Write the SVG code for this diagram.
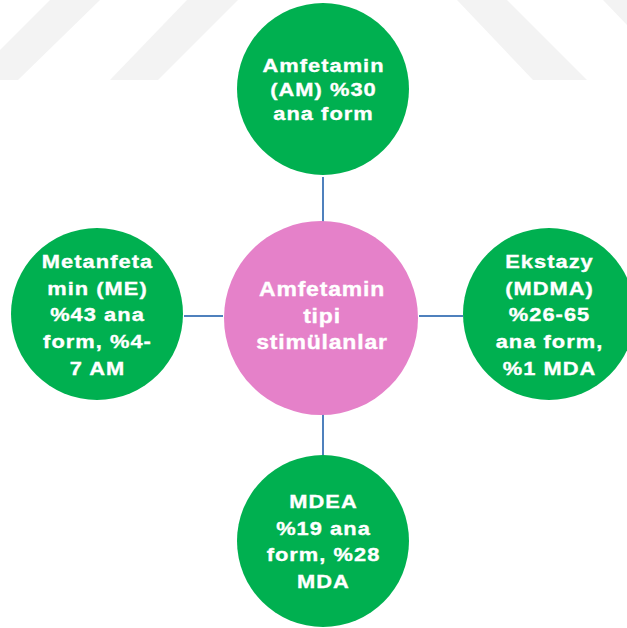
<svg xmlns="http://www.w3.org/2000/svg" width="627" height="628" viewBox="0 0 627 628">
  <style>
    .leaf { fill: #00B050; }
    .hub { fill: #E581C9; }
    .lbl { font-family: "Liberation Sans", Arial, sans-serif; font-weight: bold; fill: #FFFFFF; stroke: #FFFFFF; stroke-width: 0.35px; text-anchor: middle; }
    .s19 { font-size: 19px; letter-spacing: 0.9px; }
    .s20 { font-size: 20px; letter-spacing: 0.7px; }
    .link { stroke: #4F81BD; stroke-width: 2; fill: none; }
    .band { fill: #F3F3F3; }
  </style>

  <rect x="0" y="0" width="627" height="628" fill="#FFFFFF"/>

  <!-- faint diagonal background bands -->
  <g id="background">
    <polygon class="band" points="50,0 100,0 18,80 -30,80"/>
    <polygon class="band" points="187,0 238,0 158,80 110,80"/>
    <polygon class="band" points="457,0 507,0 587,80 533,80"/>
    <polygon class="band" points="603,0 653,0 730,80 680,80"/>
  </g>

  <g id="connectors">
    <line class="link" x1="323" y1="177" x2="323" y2="223"/>
    <line class="link" x1="323" y1="413" x2="323" y2="455"/>
    <line class="link" x1="184" y1="316" x2="223" y2="316"/>
    <line class="link" x1="419" y1="316" x2="463" y2="316"/>
  </g>

  <g id="hub">
    <circle class="hub" cx="321" cy="318" r="97"/>
    <g transform="translate(322,0) scale(1.15,1)">
      <text class="lbl s20" x="0" y="296">Amfetamin</text>
      <text class="lbl s20" x="0" y="323">tipi</text>
      <text class="lbl s20" x="0" y="349">stimülanlar</text>
    </g>
  </g>

  <g id="node-am">
    <circle class="leaf" cx="323" cy="89" r="86"/>
    <g transform="translate(323.5,0) scale(1.15,1)">
      <text class="lbl s19" x="0" y="72">Amfetamin</text>
      <text class="lbl s19" x="0" y="96.5">(AM) %30</text>
      <text class="lbl s19" x="0" y="120">ana form</text>
    </g>
  </g>

  <g id="node-me">
    <circle class="leaf" cx="97" cy="314" r="86"/>
    <g transform="translate(97.5,0) scale(1.15,1)">
      <text class="lbl s19" x="0" y="268">Metanfeta</text>
      <text class="lbl s19" x="0" y="295">min (ME)</text>
      <text class="lbl s19" x="0" y="321.5">%43 ana</text>
      <text class="lbl s19" x="0" y="348">form, %4-</text>
      <text class="lbl s19" x="0" y="375">7 AM</text>
    </g>
  </g>

  <g id="node-mdma">
    <circle class="leaf" cx="549" cy="314" r="86"/>
    <g transform="translate(549.5,0) scale(1.15,1)">
      <text class="lbl s19" x="0" y="268">Ekstazy</text>
      <text class="lbl s19" x="0" y="295">(MDMA)</text>
      <text class="lbl s19" x="0" y="321.5">%26-65</text>
      <text class="lbl s19" x="0" y="348">ana form,</text>
      <text class="lbl s19" x="0" y="375">%1 MDA</text>
    </g>
  </g>

  <g id="node-mdea">
    <circle class="leaf" cx="323" cy="541" r="86"/>
    <g transform="translate(323.5,0) scale(1.15,1)">
      <text class="lbl s19" x="0" y="508">MDEA</text>
      <text class="lbl s19" x="0" y="535">%19 ana</text>
      <text class="lbl s19" x="0" y="561.5">form, %28</text>
      <text class="lbl s19" x="0" y="588">MDA</text>
    </g>
  </g>
</svg>
